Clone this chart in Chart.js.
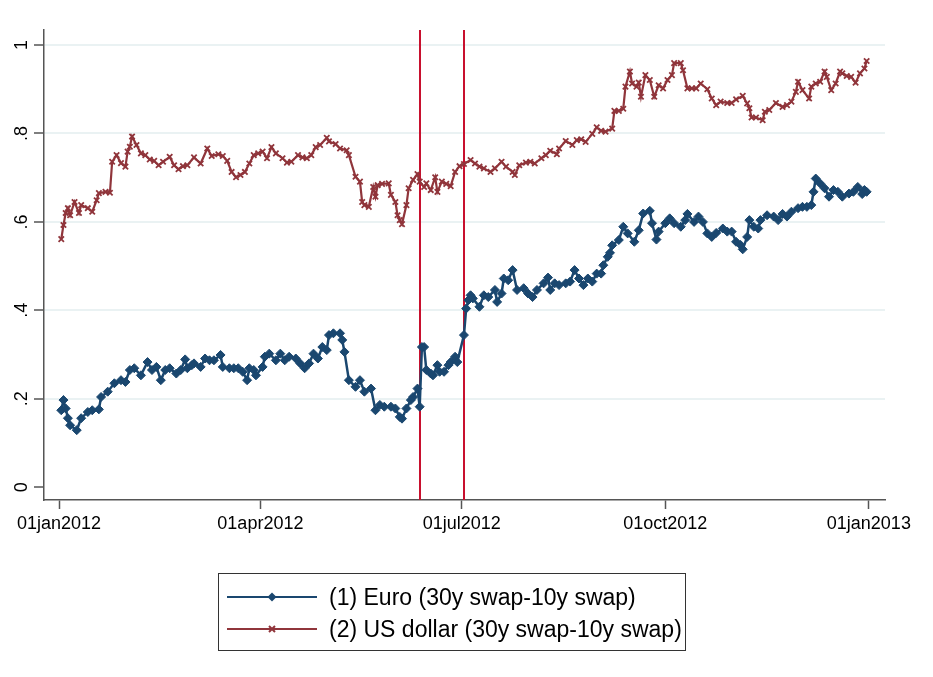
<!DOCTYPE html>
<html>
<head>
<meta charset="utf-8">
<script src="https://cdn.jsdelivr.net/npm/chart.js@4.4.0/dist/chart.umd.min.js"></script>
<style>
  html, body { margin: 0; padding: 0; background: #fff; }
  #wrap { position: relative; width: 933px; height: 677px; }
  #legend {
    position: absolute; left: 218px; top: 573px; width: 468px; height: 78px;
    border: 1px solid #333; box-sizing: border-box;
    font-family: "Liberation Sans", Arial, sans-serif; font-size: 23px; color: #000;
  }
  .row { position: absolute; left: 0; height: 30px; line-height: 30px; white-space: nowrap; }
  .row svg { position: absolute; left: 8px; top: 0; }
  .row span { position: absolute; left: 110px; top: 0; }
</style>
</head>
<body>
<div id="wrap">
  <canvas id="chart" width="933" height="677"></canvas>
  <div id="legend">
    <div class="row" style="top:8px">
      <svg width="92" height="30"><line x1="0" y1="15" x2="90" y2="15" stroke="#1a476f" stroke-width="2"/>
        <polygon points="45,10.5 49.5,15 45,19.5 40.5,15" fill="#1a476f"/></svg>
      <span>(1) Euro (30y swap-10y swap)</span>
    </div>
    <div class="row" style="top:40px">
      <svg width="92" height="30"><line x1="0" y1="15" x2="90" y2="15" stroke="#90353b" stroke-width="2"/>
        <path d="M42,12 L48,18 M48,12 L42,18" stroke="#90353b" stroke-width="2"/></svg>
      <span>(2) US dollar (30y swap-10y swap)</span>
    </div>
  </div>
</div>
<script>
// days since 01jan2012
const euroDays = [
  1, 2, 3, 4, 5, 8, 10, 13, 15, 18,
  19, 22, 25, 28, 30, 32, 34, 37, 40, 42,
  44, 46, 48, 50, 53, 55, 57, 58, 60, 61,
  64, 66, 68, 70, 73, 74, 77, 79, 81, 83,
  85, 86, 88, 89, 92, 93, 95, 98, 100, 102,
  104, 107, 109, 111, 113, 115, 117, 119, 121, 122,
  124, 127, 128, 129, 131, 134, 136, 138, 141, 143,
  145, 147, 150, 152, 154, 155, 157, 159, 160, 162,
  163, 164, 165, 166, 168, 169, 171, 172, 174, 176,
  177, 179, 180, 183, 184, 185, 186, 187, 190, 192,
  194, 197, 198, 200, 201, 203, 205, 207, 210, 212,
  214, 216, 219, 221, 222, 224, 226, 229, 231, 233,
  235, 237, 239, 241, 243, 245, 246, 248, 249, 250,
  253, 255, 257, 260, 262, 264, 267, 268, 270, 271,
  274, 276, 278, 281, 283, 284, 287, 289, 291, 293,
  295, 297, 300, 302, 304, 306, 308, 309, 311, 312,
  314, 316, 317, 320, 323, 325, 327, 329, 331, 334,
  336, 338, 340, 341, 342, 344, 346, 348, 350, 352,
  354, 357, 359, 361, 363, 364, 365
];
const euroVals = [
  .174, .197, .178, .156, .140, .129, .156, .170, .174, .176,
  .204, .216, .235, .242, .238, .265, .269, .253, .283, .265,
  .272, .242, .265, .269, .257, .265, .289, .269, .276, .280,
  .272, .291, .287, .287, .299, .272, .269, .269, .269, .261,
  .242, .269, .265, .253, .272, .295, .302, .287, .302, .287,
  .295, .291, .280, .269, .280, .302, .291, .317, .310, .344,
  .348, .348, .333, .306, .242, .227, .242, .216, .223, .174,
  .186, .182, .182, .178, .159, .155, .178, .197, .204, .223,
  .182, .317, .317, .265, .257, .253, .276, .261, .261, .276,
  .283, .295, .283, .344, .404, .423, .434, .427, .408, .434,
  .430, .446, .419, .438, .472, .468, .491, .446, .450, .438,
  .430, .446, .461, .474, .446, .461, .457, .461, .465, .491,
  .472, .457, .472, .465, .483, .483, .502, .521, .530, .547,
  .559, .589, .574, .555, .581, .619, .625, .597, .560, .578,
  .597, .608, .597, .589, .604, .618, .600, .612, .600, .574,
  .566, .575, .585, .578, .578, .555, .548, .538, .566, .604,
  .589, .585, .604, .615, .612, .604, .618, .612, .623, .631,
  .634, .634, .638, .668, .698, .687, .676, .657, .672, .668,
  .657, .664, .668, .679, .663, .672, .668
];
const usdDays = [
  1, 2, 3, 4, 5, 7, 9, 10, 13, 15,
  17, 18, 21, 23, 24, 26, 28, 30, 31, 32,
  33, 35, 37, 39, 41, 43, 45, 47, 50, 52,
  54, 56, 58, 61, 64, 67, 69, 72, 74, 76,
  78, 80, 82, 84, 86, 88, 90, 92, 94, 96,
  98, 101, 103, 105, 108, 110, 112, 114, 116, 118,
  121, 122, 125, 127, 130, 131, 134, 136, 137, 138,
  140, 142, 143, 144, 146, 149, 150, 152, 153, 154,
  155, 157, 158, 160, 162, 163, 165, 166, 168, 170,
  171, 173, 175, 177, 179, 181, 183, 186, 188, 190,
  192, 195, 197, 200, 202, 205, 206, 208, 211, 213,
  215, 218, 220, 222, 225, 226, 229, 232, 234, 236,
  238, 241, 243, 245, 247, 250, 251, 253, 255, 256,
  258, 259, 261, 262, 263, 265, 267, 269, 271, 273,
  275, 277, 278, 281, 282, 284, 286, 288, 290, 293,
  295, 297, 299, 302, 304, 306, 309, 311, 312, 313,
  315, 318, 319, 321, 324, 327, 329, 331, 333, 334,
  336, 339, 340, 342, 344, 346, 347, 349, 351, 353,
  354, 356, 358, 360, 362, 364, 365
];
const usdVals = [
  .561, .593, .620, .631, .615, .645, .620, .638, .631, .623,
  .649, .665, .668, .666, .736, .751, .733, .725, .759, .770,
  .793, .774, .755, .751, .741, .738, .728, .736, .747, .728,
  .719, .726, .728, .746, .732, .766, .749, .753, .749, .738,
  .713, .701, .706, .713, .732, .751, .755, .759, .744, .769,
  .755, .744, .734, .736, .751, .746, .744, .751, .769, .774,
  .790, .782, .776, .766, .762, .751, .702, .691, .645, .638,
  .634, .679, .657, .683, .686, .687, .661, .645, .615, .604,
  .595, .638, .676, .695, .708, .691, .679, .687, .672, .701,
  .668, .691, .686, .681, .713, .726, .731, .740, .732, .725,
  .721, .713, .721, .736, .725, .713, .706, .728, .734, .736,
  .732, .744, .751, .761, .753, .766, .783, .774, .785, .787,
  .781, .799, .814, .806, .804, .811, .851, .851, .856, .906,
  .940, .913, .906, .915, .883, .932, .921, .883, .909, .902,
  .921, .932, .959, .959, .943, .902, .902, .902, .913, .900,
  .879, .864, .872, .869, .869, .877, .885, .868, .857, .836,
  .836, .830, .849, .853, .869, .860, .864, .872, .894, .917,
  .898, .879, .906, .913, .917, .940, .928, .898, .913, .940,
  .936, .930, .928, .915, .936, .947, .964
];
const eventDays = [163, 183]; // 12jun2012, 02jul2012
const xTickDays = [0, 91, 182, 274, 366];
const xTickLabels = ['01jan2012', '01apr2012', '01jul2012', '01oct2012', '01jan2013'];
const yTicks = [0, 0.2, 0.4, 0.6, 0.8, 1];
const yTickLabels = ['0', '.2', '.4', '.6', '.8', '1'];

const FONT = '"Liberation Sans", Arial, sans-serif';
Chart.defaults.font.family = FONT;

const extras = {
  id: 'extras',
  beforeDatasetsDraw(chart) {
    const { ctx, chartArea, scales } = chart;
    ctx.save();
    ctx.strokeStyle = '#c8102e';
    ctx.lineWidth = 2;
    eventDays.forEach(d => {
      const px = Math.round(scales.x.getPixelForValue(d));
      ctx.beginPath();
      ctx.moveTo(px, chartArea.top);
      ctx.lineTo(px, chartArea.bottom);
      ctx.stroke();
    });
    ctx.restore();
  },
  afterDraw(chart) {
    const { ctx, scales } = chart;
    ctx.save();
    ctx.fillStyle = '#000';
    ctx.font = '18px ' + FONT;
    ctx.textAlign = 'center';
    ctx.textBaseline = 'alphabetic';
    yTicks.forEach((v, i) => {
      ctx.save();
      ctx.translate(27, scales.y.getPixelForValue(v));
      ctx.rotate(-Math.PI / 2);
      ctx.fillText(yTickLabels[i], 0, 0);
      ctx.restore();
    });
    ctx.restore();
  }
};

new Chart(document.getElementById('chart').getContext('2d'), {
  type: 'line',
  data: {
    datasets: [{
      label: '(1) Euro (30y swap-10y swap)',
      data: euroDays.map((d, i) => ({ x: d, y: euroVals[i] })),
      borderColor: '#1a476f',
      backgroundColor: '#1a476f',
      borderWidth: 2.5,
      pointStyle: 'rectRot',
      pointRadius: 4.5,
      pointBorderWidth: 1,
      tension: 0
    }, {
      label: '(2) US dollar (30y swap-10y swap)',
      data: usdDays.map((d, i) => ({ x: d, y: usdVals[i] })),
      borderColor: '#90353b',
      backgroundColor: '#90353b',
      borderWidth: 2.2,
      pointStyle: 'crossRot',
      pointRadius: 3.8,
      pointBorderWidth: 1.8,
      tension: 0
    }]
  },
  options: {
    responsive: false,
    animation: false,
    devicePixelRatio: 1,
    layout: { padding: { left: 0, top: 30, right: 48, bottom: 0 } },
    plugins: { legend: { display: false }, tooltip: { enabled: false } },
    scales: {
      x: {
        type: 'linear',
        min: -6.8,
        max: 373.3,
        afterBuildTicks: s => { s.ticks = xTickDays.map(v => ({ value: v })); },
        afterFit: s => { s.height = 177; },
        ticks: {
          callback: (v, i) => xTickLabels[i],
          color: '#000',
          font: { size: 18 },
          maxRotation: 0,
          autoSkip: false,
          padding: 4
        },
        grid: { drawOnChartArea: false, tickLength: 9, tickColor: '#555', tickWidth: 1.5 },
        border: { color: '#555', width: 1.5 }
      },
      y: {
        min: -0.029,
        max: 1.034,
        afterBuildTicks: s => { s.ticks = yTicks.map(v => ({ value: v })); },
        afterFit: s => { s.width = 44; },
        ticks: { display: false },
        grid: {
          color: c => (c.tick && c.tick.value === 0 ? 'rgba(0,0,0,0)' : '#eaf2f3'),
          lineWidth: 2,
          tickLength: 10,
          tickColor: '#555',
          tickWidth: 1.5
        },
        border: { color: '#555', width: 1.5 }
      }
    }
  },
  plugins: [extras]
});
</script>
</body>
</html>
